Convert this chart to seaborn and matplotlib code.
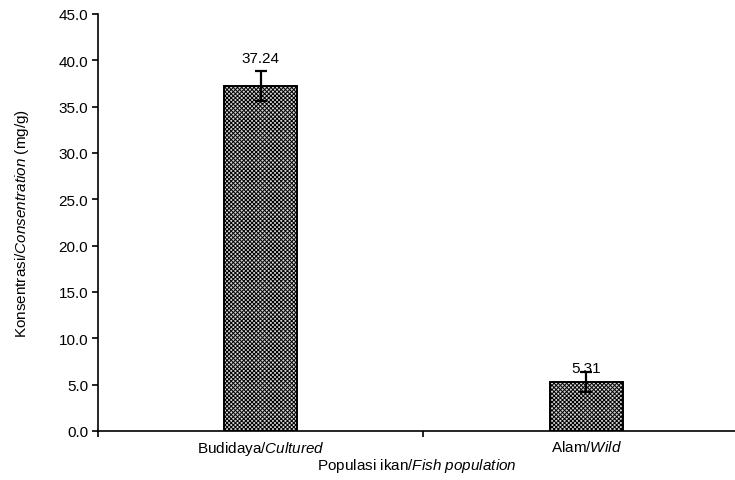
import matplotlib
matplotlib.use("Agg")
import matplotlib.pyplot as plt
import seaborn as sns
import pandas as pd

sns.set_theme(style="white")
plt.rcParams['font.family'] = ['Liberation Sans', 'DejaVu Sans']
plt.rcParams['mathtext.fontset'] = 'custom'
plt.rcParams['mathtext.rm'] = 'Liberation Sans'
plt.rcParams['mathtext.it'] = 'Liberation Sans:italic'
plt.rcParams['text.color'] = 'black'
plt.rcParams['axes.labelcolor'] = 'black'
plt.rcParams['xtick.color'] = 'black'
plt.rcParams['ytick.color'] = 'black'
plt.rcParams['hatch.color'] = '#555555'
plt.rcParams['hatch.linewidth'] = 0.7

categories = ["Budidaya/$\\mathit{Cultured}$", "Alam/$\\mathit{Wild}$"]
concentration = [37.24, 5.31]
errors = [1.6, 1.1]
value_labels = ["37.24", "5.31"]

df = pd.DataFrame({'population': categories, 'conc': concentration})

fs = 11
fig = plt.figure(figsize=(7.35, 4.81), dpi=100)
ax = fig.add_axes([0.133, 0.102, 0.867, 0.867])

sns.barplot(data=df, x='population', y='conc', ax=ax, width=0.225,
            color='#d4d4d4', edgecolor='black', linewidth=1.4, errorbar=None)
for p in ax.patches:
    p.set_hatch('xxxxxxxx')

ax.errorbar(range(len(concentration)), concentration, yerr=errors, fmt='none',
            ecolor='black', elinewidth=1.6, capsize=4, capthick=1.6)

label_offsets = [15, 5]
for i, (v, txt) in enumerate(zip(concentration, value_labels)):
    ax.annotate(txt, (i, v), xytext=(0, label_offsets[i]), textcoords='offset points',
                ha='center', va='bottom', fontsize=fs)

ax.set_yticks([0, 5, 10, 15, 20, 25, 30, 35, 40, 45])
ax.set_yticklabels([f"{t:.1f}" for t in ax.get_yticks()], fontsize=fs)

ax.set_xticks([-0.5, 0.5, 1.5])
ax.set_xticklabels(['', '', ''])
ax.set_xticks([0, 1], minor=True)
ax.set_xticklabels(categories, minor=True, fontsize=fs)
ax.tick_params(axis='x', which='minor', length=0, pad=6)
ax.tick_params(axis='both', which='major', direction='out', length=4, width=1.2,
               color='black', left=True, bottom=True)
ax.tick_params(axis='y', pad=3)
ax.set_ylim(0, 45)
ax.set_xlim(-0.5, 1.457)

for s in ['top', 'right']:
    ax.spines[s].set_visible(False)
for s in ['left', 'bottom']:
    ax.spines[s].set_color('black')
    ax.spines[s].set_linewidth(1.2)

ax.set_xlabel("Populasi ikan/$\\mathit{Fish\\ population}$", fontsize=fs, labelpad=-1)
ax.set_ylabel("Konsentrasi/$\\mathit{Consentration}$ (mg/g)", fontsize=fs, labelpad=20)

fig.savefig('out.png', dpi=100)
